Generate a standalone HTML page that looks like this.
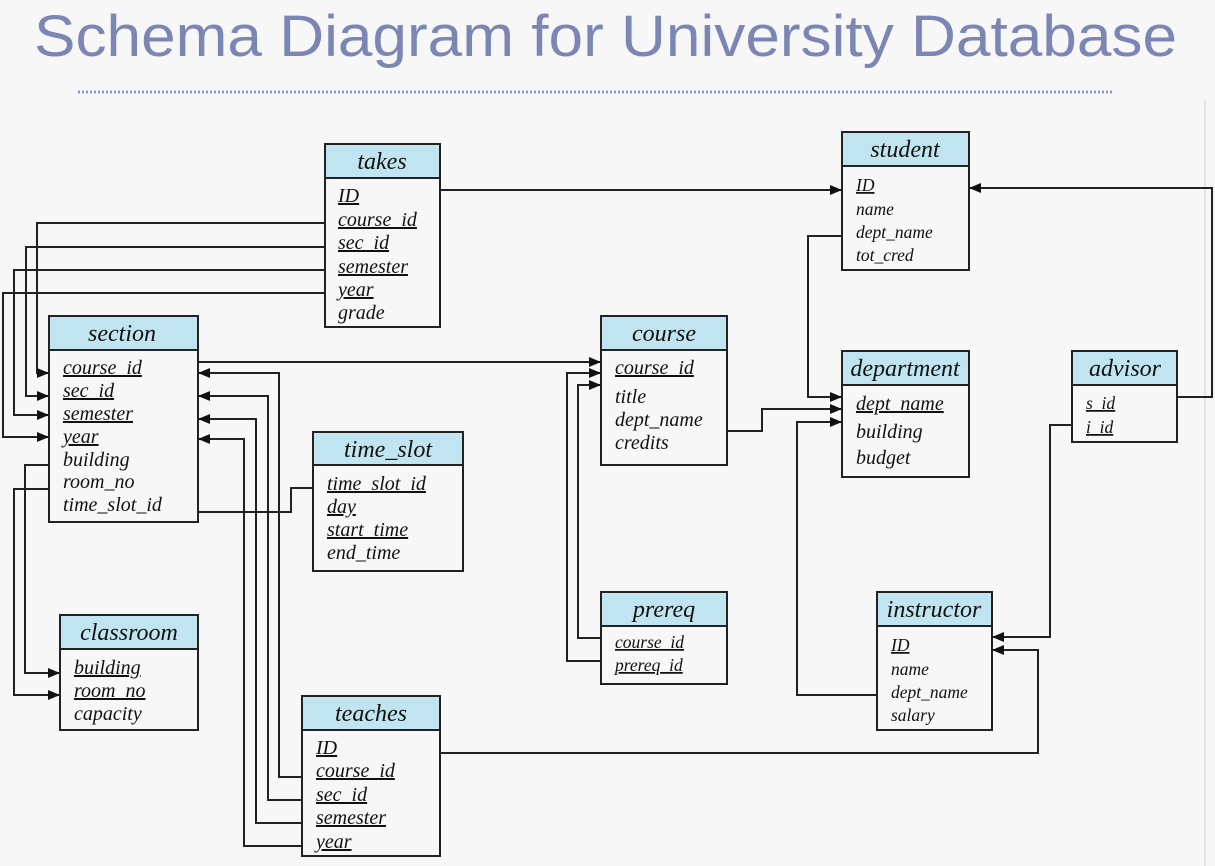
<!DOCTYPE html>
<html><head><meta charset="utf-8"><style>
html,body{margin:0;padding:0;background:#f7f7f7;}
svg{display:block}
.t{font-family:"Liberation Serif",serif;font-style:italic;fill:#111}
.h{font-size:24px}
.r{font-size:20px}
.s{font-size:17.5px}
.u{text-decoration:underline}
</style></head><body>
<svg width="1215" height="866" viewBox="0 0 1215 866" xmlns="http://www.w3.org/2000/svg">
<defs><marker id="a" viewBox="0 0 12 10" refX="12" refY="5" markerWidth="12" markerHeight="10" markerUnits="userSpaceOnUse" orient="auto"><path d="M0,0L12,5L0,10z" fill="#111"/></marker></defs>
<rect width="1215" height="866" fill="#f7f7f7"/>
<text x="34" y="56" font-family="Liberation Sans, sans-serif" font-size="58" fill="#7c86b4" textLength="1143" lengthAdjust="spacingAndGlyphs">Schema Diagram for University Database</text>
<line x1="78" y1="92" x2="1112" y2="92" stroke="#8c96cc" stroke-width="3" stroke-dasharray="2,2"/>
<line x1="1205" y1="100" x2="1205" y2="866" stroke="#e4e4e4" stroke-width="2"/>

<g fill="none" stroke="#222" stroke-width="2">
<polyline points="440,190 842,190" marker-end="url(#a)"/>
<polyline points="325,223 37,223 37,373 49,373" marker-end="url(#a)"/>
<polyline points="325,247 26,247 26,396 49,396" marker-end="url(#a)"/>
<polyline points="325,270 14,270 14,415 49,415" marker-end="url(#a)"/>
<polyline points="325,293 3,293 3,437 49,437" marker-end="url(#a)"/>
<polyline points="49,465 25,465 25,673 60,673" marker-end="url(#a)"/>
<polyline points="49,489 14,489 14,695 60,695" marker-end="url(#a)"/>
<polyline points="198,362 601,362" marker-end="url(#a)"/>
<polyline points="302,777 279,777 279,373 198,373" marker-end="url(#a)"/>
<polyline points="302,800 268,800 268,396 198,396" marker-end="url(#a)"/>
<polyline points="302,823 256,823 256,419 198,419" marker-end="url(#a)"/>
<polyline points="302,846 244,846 244,439 198,439" marker-end="url(#a)"/>
<polyline points="198,512 291,512 291,488 313,488"/>
<polyline points="440,753 1038,753 1038,650 992,650" marker-end="url(#a)"/>
<polyline points="1072,425 1050,425 1050,637 992,637" marker-end="url(#a)"/>
<polyline points="1177,397 1212,397 1212,188 969,188" marker-end="url(#a)"/>
<polyline points="842,236 808,236 808,397 842,397" marker-end="url(#a)"/>
<polyline points="727,431 762,431 762,409 842,409" marker-end="url(#a)"/>
<polyline points="877,695 797,695 797,422 842,422" marker-end="url(#a)"/>
<polyline points="601,638 578,638 578,385 601,385" marker-end="url(#a)"/>
<polyline points="601,661 567,661 567,373 601,373" marker-end="url(#a)"/>
</g>

<g stroke="#222" stroke-width="2">
<rect x="325" y="144" width="115" height="34" fill="#c0e5f0"/><rect x="325" y="178" width="115" height="149" fill="#f7f7f7"/>
<rect x="842" y="132" width="127" height="34" fill="#c0e5f0"/><rect x="842" y="166" width="127" height="104" fill="#f7f7f7"/>
<rect x="49" y="316" width="149" height="34" fill="#c0e5f0"/><rect x="49" y="350" width="149" height="172" fill="#f7f7f7"/>
<rect x="601" y="316" width="126" height="34" fill="#c0e5f0"/><rect x="601" y="350" width="126" height="115" fill="#f7f7f7"/>
<rect x="842" y="351" width="127" height="34" fill="#c0e5f0"/><rect x="842" y="385" width="127" height="92" fill="#f7f7f7"/>
<rect x="1072" y="351" width="105" height="34" fill="#c0e5f0"/><rect x="1072" y="385" width="105" height="57" fill="#f7f7f7"/>
<rect x="313" y="432" width="150" height="33" fill="#c0e5f0"/><rect x="313" y="465" width="150" height="106" fill="#f7f7f7"/>
<rect x="601" y="592" width="126" height="34" fill="#c0e5f0"/><rect x="601" y="626" width="126" height="58" fill="#f7f7f7"/>
<rect x="877" y="592" width="115" height="34" fill="#c0e5f0"/><rect x="877" y="626" width="115" height="104" fill="#f7f7f7"/>
<rect x="60" y="615" width="138" height="34" fill="#c0e5f0"/><rect x="60" y="649" width="138" height="81" fill="#f7f7f7"/>
<rect x="302" y="696" width="138" height="34" fill="#c0e5f0"/><rect x="302" y="730" width="138" height="126" fill="#f7f7f7"/>
</g>

<g class="t">
<text class="h" x="382" y="169" text-anchor="middle">takes</text>
<text class="r u" x="338" y="202">ID</text>
<text class="r u" x="338" y="226">course_id</text>
<text class="r u" x="338" y="249">sec_id</text>
<text class="r u" x="338" y="273">semester</text>
<text class="r u" x="338" y="296">year</text>
<text class="r" x="338" y="319">grade</text>

<text class="h" x="905" y="157" text-anchor="middle">student</text>
<text class="s u" x="856" y="191">ID</text>
<text class="s" x="856" y="215">name</text>
<text class="s" x="856" y="238">dept_name</text>
<text class="s" x="856" y="261">tot_cred</text>

<text class="h" x="122" y="341" text-anchor="middle">section</text>
<text class="r u" x="63" y="374">course_id</text>
<text class="r u" x="63" y="397">sec_id</text>
<text class="r u" x="63" y="420">semester</text>
<text class="r u" x="63" y="443">year</text>
<text class="r" x="63" y="466">building</text>
<text class="r" x="63" y="488">room_no</text>
<text class="r" x="63" y="511">time_slot_id</text>

<text class="h" x="664" y="341" text-anchor="middle">course</text>
<text class="r u" x="615" y="374">course_id</text>
<text class="r" x="615" y="403">title</text>
<text class="r" x="615" y="426">dept_name</text>
<text class="r" x="615" y="449">credits</text>

<text class="h" x="905" y="376" text-anchor="middle">department</text>
<text class="r u" x="856" y="410">dept_name</text>
<text class="r" x="856" y="438">building</text>
<text class="r" x="856" y="464">budget</text>

<text class="h" x="1125" y="376" text-anchor="middle">advisor</text>
<text class="s u" x="1086" y="409">s_id</text>
<text class="s u" x="1086" y="433">i_id</text>

<text class="h" x="388" y="457" text-anchor="middle">time_slot</text>
<text class="r u" x="327" y="490">time_slot_id</text>
<text class="r u" x="327" y="513">day</text>
<text class="r u" x="327" y="536">start_time</text>
<text class="r" x="327" y="559">end_time</text>

<text class="h" x="664" y="617" text-anchor="middle">prereq</text>
<text class="s u" x="615" y="648">course_id</text>
<text class="s u" x="615" y="671">prereq_id</text>

<text class="h" x="934" y="617" text-anchor="middle">instructor</text>
<text class="s u" x="891" y="651">ID</text>
<text class="s" x="891" y="675">name</text>
<text class="s" x="891" y="698">dept_name</text>
<text class="s" x="891" y="721">salary</text>

<text class="h" x="129" y="640" text-anchor="middle">classroom</text>
<text class="r u" x="74" y="674">building</text>
<text class="r u" x="74" y="697">room_no</text>
<text class="r" x="74" y="720">capacity</text>

<text class="h" x="371" y="721" text-anchor="middle">teaches</text>
<text class="r u" x="316" y="754">ID</text>
<text class="r u" x="316" y="777">course_id</text>
<text class="r u" x="316" y="801">sec_id</text>
<text class="r u" x="316" y="824">semester</text>
<text class="r u" x="316" y="848">year</text>
</g>
</svg>
</body></html>
